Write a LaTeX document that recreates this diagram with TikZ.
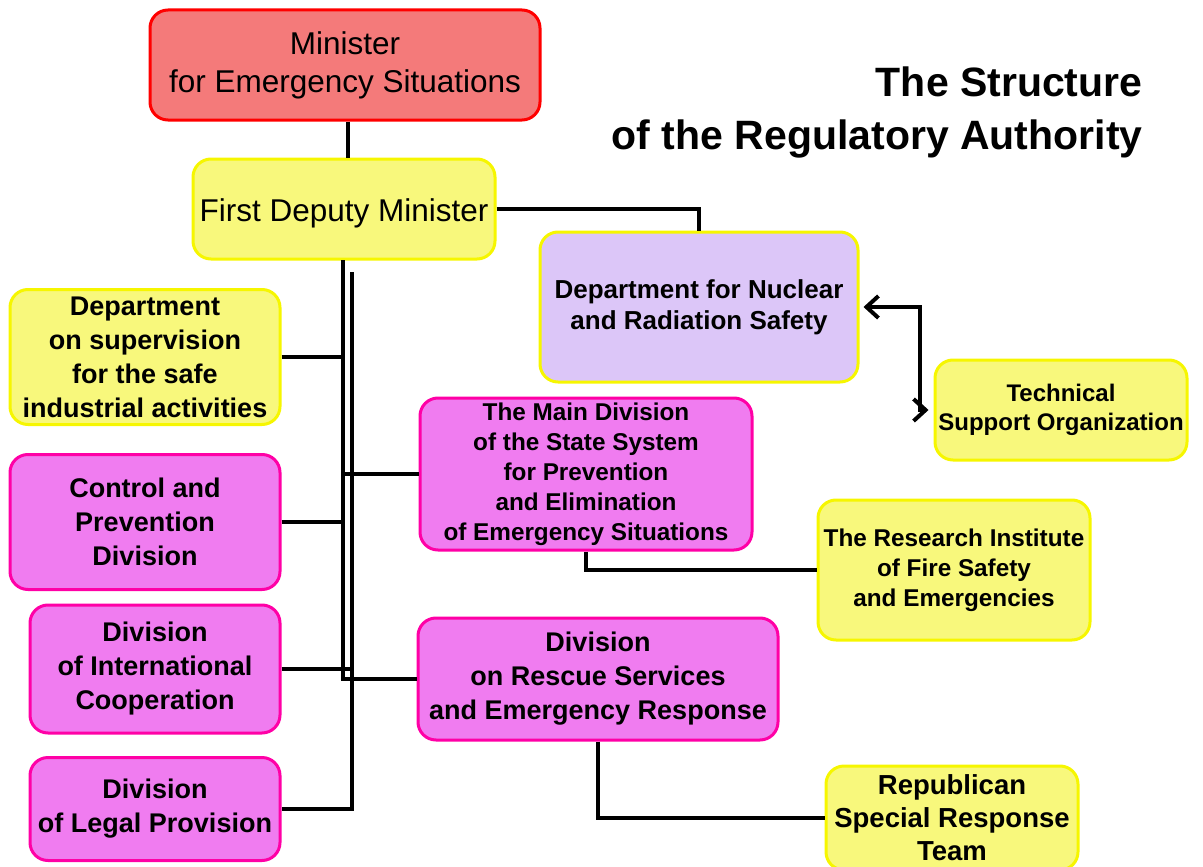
\documentclass[tikz,border=0pt]{standalone}
\usepackage{fontspec}
\setmainfont{Liberation Sans}
\usetikzlibrary{arrows.meta}

\definecolor{fillred}{HTML}{F47A7A}
\definecolor{boxred}{HTML}{FF0000}
\definecolor{fillyellow}{HTML}{F8F87C}
\definecolor{boxyellow}{HTML}{F6F600}
\definecolor{fillpink}{HTML}{F07CF0}
\definecolor{boxpink}{HTML}{FF00A6}
\definecolor{filllilac}{HTML}{DCC6F8}

\tikzset{
	box/.style={draw, line width=3pt, rounded corners=18pt, inner sep=0pt, align=center,
		font=\bfseries\fontsize{27}{34}\selectfont,
		execute at begin node={\rule{0pt}{1em}}},
	yellowbox/.style={box, draw=boxyellow, fill=fillyellow},
	pinkbox/.style={box, draw=boxpink, fill=fillpink},
	link/.style={line width=4pt},
}

\begin{document}
\begin{tikzpicture}[x=1pt, y=-1pt]

				\clip (0,0) rectangle (1203,867);

				% title
				\node[anchor=east, align=right, font=\bfseries\fontsize{41}{53}\selectfont] (title) at (1146,112) {The Structure\\of the Regulatory Authority};

				% top of the authority
				\node[box, draw=boxred, fill=fillred, minimum width=390pt, minimum height=110pt, font=\fontsize{31.5}{38}\selectfont] (minister) at (345,65) {Minister\\for Emergency Situations};
				\node[yellowbox, minimum width=302pt, minimum height=100pt, font=\fontsize{31.5}{38}\selectfont] (fdm) at (344,209) {First Deputy Minister};
				\node[box, draw=boxyellow, fill=filllilac, minimum width=318pt, minimum height=150pt, font=\bfseries\fontsize{26}{31}\selectfont] (nuclear) at (699,307) {Department for Nuclear\\and Radiation Safety};
				\node[yellowbox, minimum width=252pt, minimum height=100pt, font=\bfseries\fontsize{24}{29}\selectfont] (tso) at (1061,410) {Technical\\Support Organization};

				% left column
				\node[yellowbox, minimum width=270pt, minimum height=135pt] (supervision) at (145,357) {Department\\on supervision\\for the safe\\industrial activities};
				\node[pinkbox, minimum width=270pt, minimum height=135pt] (control) at (145,522) {Control and\\Prevention\\Division};
				\node[pinkbox, minimum width=250pt, minimum height=128pt] (intl) at (155,669) {Division\\of International\\Cooperation};
				\node[pinkbox, minimum width=250pt, minimum height=103pt] (legal) at (155,809) {Division\\of Legal Provision};

				% middle and right
				\node[pinkbox, minimum width=332pt, minimum height=152pt, font=\bfseries\fontsize{24.3}{30}\selectfont] (main) at (586,474) {The Main Division\\of the State System\\for Prevention\\and Elimination\\of Emergency Situations};
				\node[yellowbox, minimum width=272pt, minimum height=140pt, font=\bfseries\fontsize{24.3}{30}\selectfont] (research) at (954,570) {The Research Institute\\of Fire Safety\\and Emergencies};
				\node[pinkbox, minimum width=360pt, minimum height=122pt] (rescue) at (598,679) {Division\\on Rescue Services\\and Emergency Response};
				\node[yellowbox, minimum width=252pt, minimum height=104pt, font=\bfseries\fontsize{27.5}{33}\selectfont] (republican) at (952,818) {Republican\\Special Response\\Team};

				% connectors
				\coordinate (trunkA) at (343,260);
				\coordinate (trunkB) at (352,272);

				\draw[link] (minister.south -| 348,0) -- (fdm.north -| 348,0);
				\draw[link] (fdm.east) -| (nuclear.north);
				\draw[link] (trunkA) |- (rescue.west);
				\draw[link] (trunkB) |- (legal.east);
				\draw[link] (supervision.east) -- (supervision.east -| trunkA);
				\draw[link] (control.east) -- (control.east -| trunkA);
				\draw[link] (intl.east) -- (intl.east -| trunkB);
				\draw[link] (main.west) -- (main.west -| trunkA);
				\draw[link] (main.south) |- (research.west);
				\draw[link] (rescue.south) |- (republican.west);
				\draw[link, {Straight Barb[length=12pt, width=22pt]}-{Straight Barb[length=12pt, width=22pt]}, shorten <=4pt, shorten >=5pt] (nuclear.east) -- ++(60,0) |- (tso.west);

\end{tikzpicture}
\end{document}
